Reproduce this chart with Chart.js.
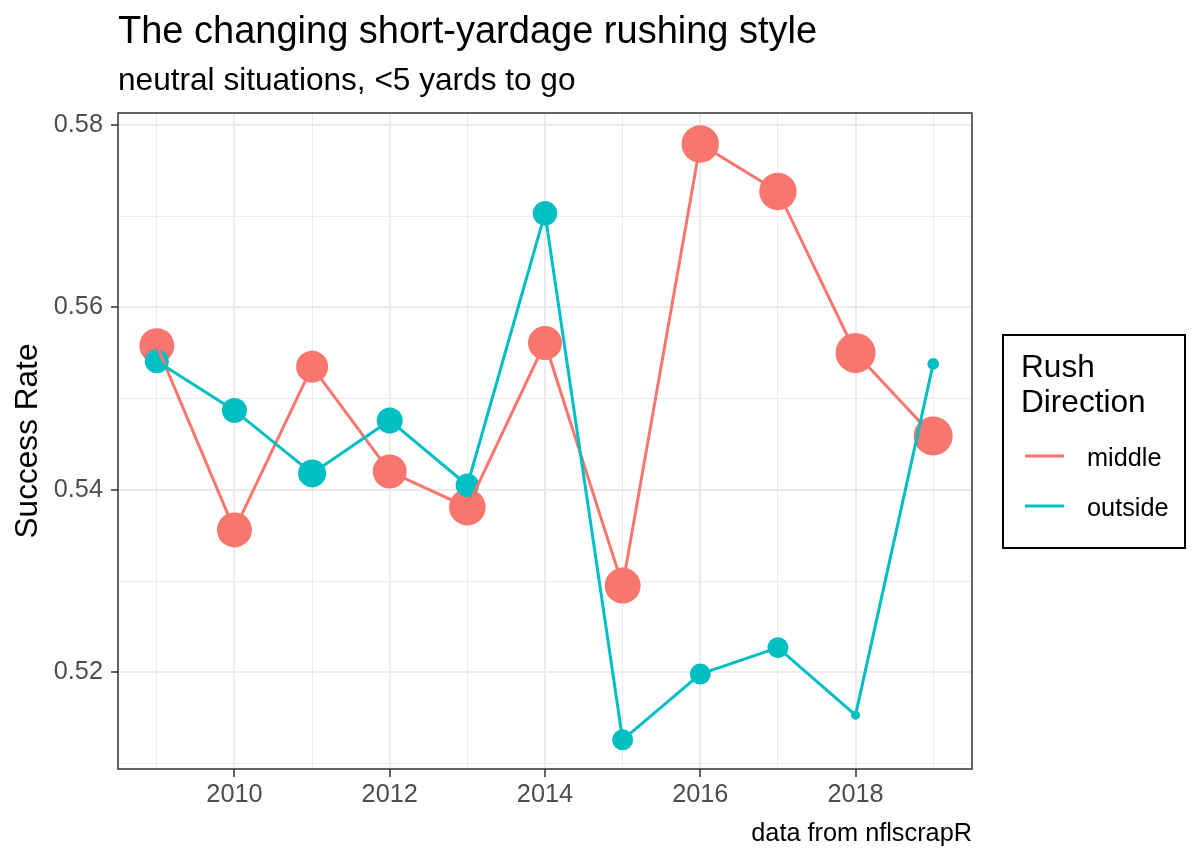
<!DOCTYPE html>
<html>
<head>
<meta charset="utf-8">
<script src="https://cdn.jsdelivr.net/npm/chart.js@4.4.1/dist/chart.umd.min.js"></script>
<style>
  html, body { margin: 0; padding: 0; background: #ffffff; }
</style>
</head>
<body>
<canvas id="rushChart" width="1200" height="863"></canvas>
<script>
// --- data ---
const years = [2009, 2010, 2011, 2012, 2013, 2014, 2015, 2016, 2017, 2018, 2019];
const middleRate  = [0.5558, 0.5356, 0.5535, 0.5420, 0.5381, 0.5561, 0.5295, 0.5779, 0.5727, 0.5550, 0.5459];
const outsideRate = [0.5541, 0.5487, 0.5418, 0.5476, 0.5405, 0.5703, 0.5126, 0.5198, 0.5227, 0.5153, 0.5538];
// play counts (drive the point size)
const middlePlays  = [612, 612, 512, 578, 670, 578, 648, 700, 700, 800, 760];
const outsidePlays = [288, 312, 392, 338, 274, 302, 220, 220, 220, 40, 68];
const yearTicks = [2009, 2010, 2011, 2012, 2013, 2014, 2015, 2016, 2017, 2018, 2019];
const rateTicks = [0.51, 0.52, 0.53, 0.54, 0.55, 0.56, 0.57, 0.58];

const FONT = "'Liberation Sans', Arial, sans-serif";
const RED = "#F8766D";
const TEAL = "#00BFC4";

const toXY = vals => years.map((yr, i) => ({ x: yr, y: vals[i] }));
const sizeOf = n => Math.sqrt(n / 2);
const isMajorYear = v => v % 2 === 0;
const isMajorRate = v => Math.round(v * 100) % 2 === 0;

// titles, caption, legend box and panel border
const decor = {
  id: "decor",
  afterDraw(chart) {
    const { ctx, chartArea: a } = chart;
    ctx.save();
    ctx.strokeStyle = "#333333";
    ctx.lineWidth = 1.5;
    ctx.strokeRect(a.left, a.top, a.right - a.left, a.bottom - a.top);

    ctx.fillStyle = "#000000";
    ctx.textBaseline = "alphabetic";
    ctx.textAlign = "left";
    ctx.font = `38px ${FONT}`;
    ctx.fillText("The changing short-yardage rushing style", a.left, 43);
    ctx.font = `31.6px ${FONT}`;
    ctx.fillText("neutral situations, <5 yards to go", a.left, 90);

    ctx.textAlign = "right";
    ctx.font = `25.3px ${FONT}`;
    ctx.fillText("data from nflscrapR", a.right, 841);

    // legend
    ctx.lineWidth = 2;
    ctx.strokeStyle = "#000000";
    ctx.strokeRect(1003, 335, 182, 213);
    ctx.textAlign = "left";
    ctx.font = `31.6px ${FONT}`;
    ctx.fillText("Rush", 1021, 377);
    ctx.fillText("Direction", 1021, 412);
    const items = [["middle", RED, 456], ["outside", TEAL, 506]];
    ctx.font = `25.3px ${FONT}`;
    items.forEach(([name, col, y]) => {
      ctx.strokeStyle = col;
      ctx.lineWidth = 3;
      ctx.beginPath();
      ctx.moveTo(1025, y);
      ctx.lineTo(1064, y);
      ctx.stroke();
      ctx.fillText(name, 1087, y + 9.5);
    });
    ctx.restore();
  }
};

const ctx = document.getElementById("rushChart").getContext("2d");
new Chart(ctx, {
  type: "line",
  data: {
    datasets: [
      // lines sit on top of all points, as in the original
      { label: "outside", data: toXY(outsideRate), borderColor: TEAL, borderWidth: 3,
        pointRadius: 0, fill: false, order: 0 },
      { label: "middle", data: toXY(middleRate), borderColor: RED, borderWidth: 3,
        pointRadius: 0, fill: false, order: 1 },
      { label: "outside pts", data: toXY(outsideRate), showLine: false,
        pointRadius: outsidePlays.map(sizeOf), pointBackgroundColor: TEAL,
        pointBorderWidth: 0, pointHoverRadius: outsidePlays.map(sizeOf), order: 2 },
      { label: "middle pts", data: toXY(middleRate), showLine: false,
        pointRadius: middlePlays.map(sizeOf), pointBackgroundColor: RED,
        pointBorderWidth: 0, pointHoverRadius: middlePlays.map(sizeOf), order: 3 }
    ]
  },
  options: {
    responsive: false,
    animation: false,
    clip: false,
    layout: { autoPadding: false, padding: { left: 0, top: 113, right: 228, bottom: 0 } },
    plugins: {
      legend: { display: false },
      title: { display: false },
      tooltip: { enabled: false }
    },
    scales: {
      x: {
        type: "linear",
        min: 2008.5,
        max: 2019.5,
        afterBuildTicks: s => { s.ticks = yearTicks.map(v => ({ value: v })); },
        afterFit: s => { s.height = 94; },
        ticks: {
          autoSkip: false,
          maxRotation: 0,
          padding: 3,
          color: "#4D4D4D",
          font: { family: FONT, size: 25.3 },
          callback: v => (isMajorYear(v) ? String(v) : "")
        },
        grid: {
          color: "#EBEBEB",
          lineWidth: c => (c.tick && isMajorYear(c.tick.value) ? 2 : 1),
          tickLength: 8,
          tickWidth: 1.5,
          tickColor: c => (c.tick && isMajorYear(c.tick.value) ? "#333333" : "rgba(0,0,0,0)")
        },
        border: { display: false }
      },
      y: {
        type: "linear",
        min: 0.5094,
        max: 0.5813,
        afterBuildTicks: s => { s.ticks = rateTicks.map(v => ({ value: v })); },
        afterFit: s => { s.width = 118; },
        ticks: {
          autoSkip: false,
          padding: 8,
          color: "#4D4D4D",
          font: { family: FONT, size: 25.3 },
          callback: v => (isMajorRate(v) ? v.toFixed(2) : "")
        },
        grid: {
          color: "#EBEBEB",
          lineWidth: c => (c.tick && isMajorRate(c.tick.value) ? 2 : 1),
          tickLength: 7,
          tickWidth: 1.5,
          tickColor: c => (c.tick && isMajorRate(c.tick.value) ? "#333333" : "rgba(0,0,0,0)")
        },
        border: { display: false },
        title: {
          display: true,
          text: "Success Rate",
          color: "#000000",
          font: { family: FONT, size: 31.6 },
          padding: { top: 9, bottom: 0 }
        }
      }
    }
  },
  plugins: [decor]
});
</script>
</body>
</html>
